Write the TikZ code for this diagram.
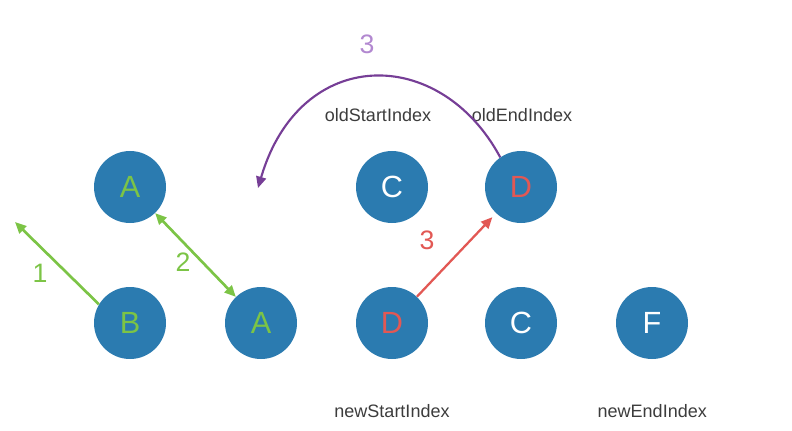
\documentclass[tikz,border=0pt]{standalone}
\usepackage{fontspec}
\setmainfont{Liberation Sans}
\usetikzlibrary{arrows.meta}
\definecolor{vnode}{RGB}{43,123,176}
\definecolor{vgreen}{RGB}{124,196,70}
\definecolor{vred}{RGB}{226,88,84}
\definecolor{vpurple}{RGB}{118,62,150}
\definecolor{vlilac}{RGB}{178,136,208}
\definecolor{vgray}{RGB}{60,60,60}

\begin{document}
\begin{tikzpicture}[x=0.75pt,y=-0.75pt,
  vn/.style={circle,fill=vnode,minimum size=54pt,inner sep=0pt,font=\fontsize{23}{23}\selectfont},
  idx/.style={text=vgray,font=\fontsize{13.5}{14}\selectfont},
  num/.style={font=\fontsize{20}{20}\selectfont},
  tip/.style={-{Triangle[length=8.5pt,width=7.5pt]}}]
\useasboundingbox (0,0) rectangle (792,431);
% old vnodes (top row)
\node[vn,text=vgreen] (a1) at (130,187) {A};
\node[vn,text=white] (c1) at (392,187) {C};
\node[vn,text=vred] (d1) at (521,187) {D};
% new vnodes (bottom row)
\node[vn,text=vgreen] (b2) at (130,323) {B};
\node[vn,text=vgreen] (a2) at (261,323) {A};
\node[vn,text=vred] (d2) at (392,323) {D};
\node[vn,text=white] (c2) at (521,323) {C};
\node[vn,text=white] (f2) at (652,323) {F};

% indexes
\node[idx] (os) at (378,115) {oldStartIndex};
\node[idx] (oe) at (522,115) {oldEndIndex};
\node[idx] (ns) at (392,411) {newStartIndex};
\node[idx,anchor=west] (ne) at (593,411) {newEndIndex};

% step 1
\coordinate (bout) at (15,222);
\draw[tip,vgreen,line width=2pt] (b2.149) -- (bout);
\node[num,text=vgreen] (n1) at (40,273) {1};
% step 2
\draw[{Triangle[length=8.5pt,width=7.5pt]}-{Triangle[length=8.5pt,width=7.5pt]},vgreen,line width=2pt] (a1) -- (a2);
\node[num,text=vgreen] (n2) at (183,262) {2};
% step 3
\draw[tip,vred,line width=1.7pt,shorten >=4pt] (d2) -- (d1);
\node[num,text=vred] (n3) at (427,240) {3};
\coordinate (hole) at (258,188);
\draw[tip,vpurple,line width=1.6pt] (d1.125) .. controls (440,45) and (300,45) .. (hole);
\node[num,text=vlilac] (n4) at (367,44) {3};
\end{tikzpicture}
\end{document}
